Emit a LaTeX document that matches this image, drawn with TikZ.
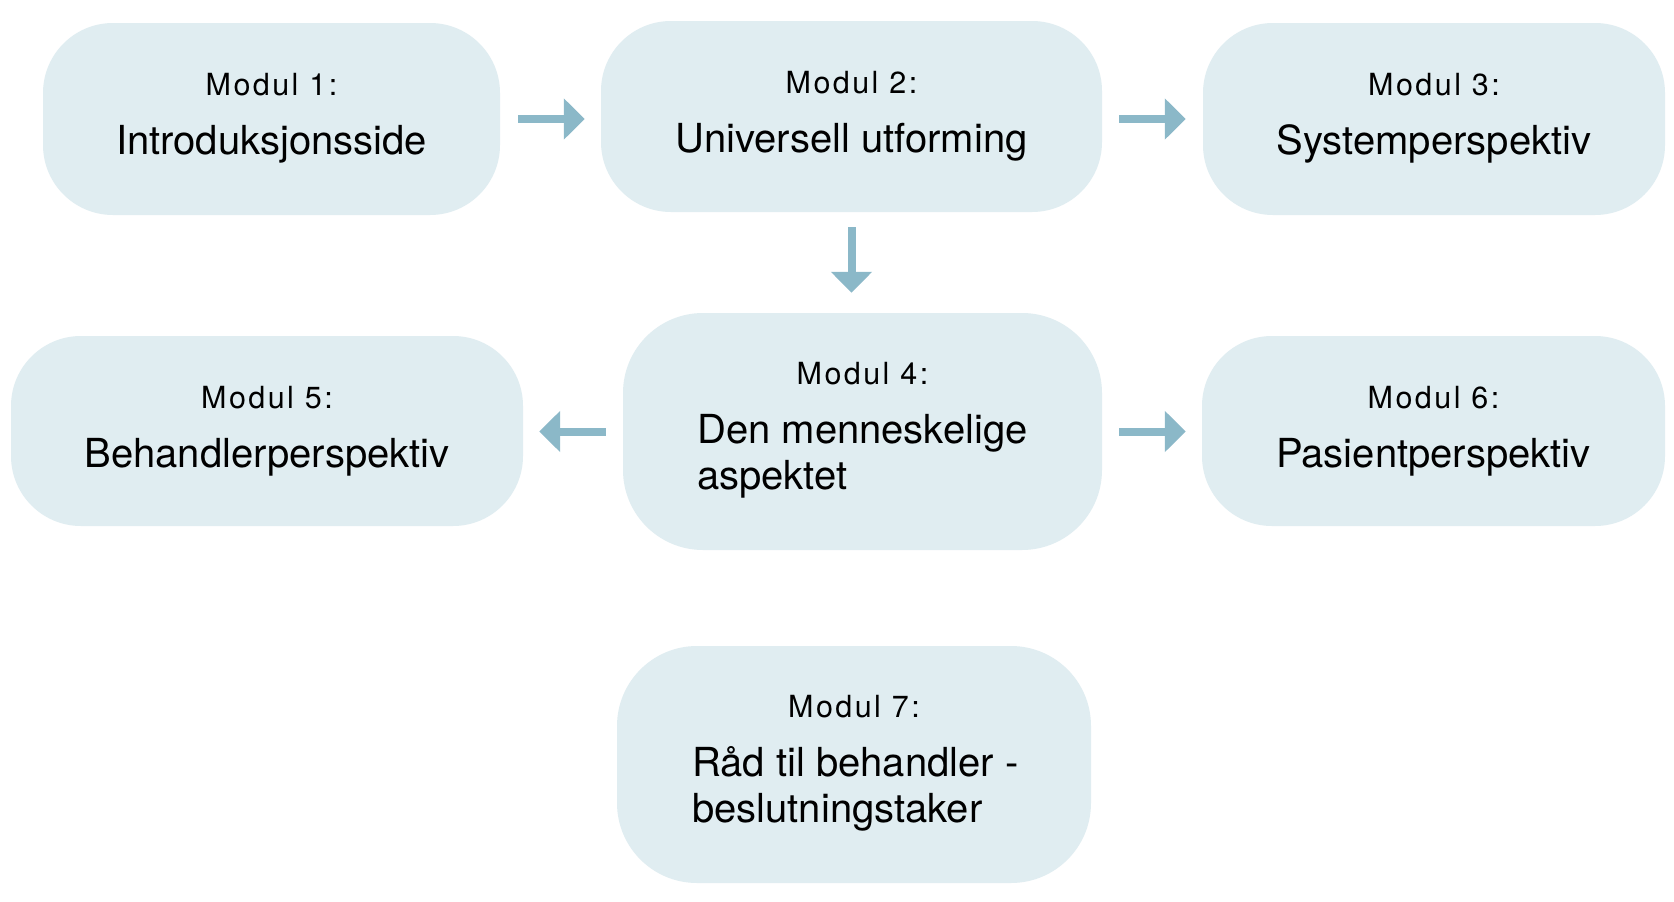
\documentclass[tikz,border=0pt]{standalone}
\usepackage{fontspec}
\setmainfont{TeX Gyre Heros}
\newfontfamily\modfont[LetterSpace=8]{TeX Gyre Heros}
\usetikzlibrary{arrows.meta,calc}
\definecolor{boxfill}{HTML}{E0EDF1}
\definecolor{arrowc}{HTML}{8BB8C8}
\tikzset{
  box/.style={fill=boxfill, draw=none, inner sep=0pt, rounded corners=70pt},
  tallbox/.style={box, rounded corners=80pt},
  modlabel/.style={inner sep=0pt, anchor=base, font=\modfont\fontsize{30.5}{36}\selectfont},
  maintext/.style={inner sep=0pt, anchor=base, font=\fontsize{40}{46}\selectfont},
  mainleft/.style={maintext, anchor=base west},
  arr/.style={line width=8pt, color=arrowc, line cap=butt, -{Triangle[width=40pt,length=21pt]}}
}
\begin{document}
\begin{tikzpicture}[x=1pt,y=-1pt]
\path[use as bounding box, fill=white] (0,0) rectangle (1674,902);
% boxes
\node[box, minimum width=457pt, minimum height=192pt] (b1) at (271.5,119) {};
\node[box, minimum width=501pt, minimum height=191pt] (b2) at (851.5,116.5) {};
\node[box, minimum width=462pt, minimum height=192pt] (b3) at (1434,119) {};
\node[tallbox, minimum width=479pt, minimum height=237pt] (b4) at (862.5,431.5) {};
\node[box, minimum width=512pt, minimum height=190pt] (b5) at (267,431) {};
\node[box, minimum width=463pt, minimum height=190pt] (b6) at (1433.5,431) {};
\node[tallbox, minimum width=474pt, minimum height=237pt] (b7) at (854,764.5) {};
% texts
\node[modlabel] (m1) at (271.5,95) {Modul 1:};
\node[maintext] (t1) at (271.5,154) {Introduksjonsside};
\node[modlabel] (m2) at (851.5,93) {Modul 2:};
\node[maintext] (t2) at (851.5,152) {Universell utforming};
\node[modlabel] (m3) at (1434,95) {Modul 3:};
\node[maintext] (t3) at (1434,154) {Systemperspektiv};
\node[modlabel] (m4) at (862.5,384.5) {Modul 4:};
\node[mainleft] (t4a) at (697,443) {Den menneskelige};
\node[mainleft] (t4b) at (697,489) {aspektet};
\node[modlabel] (m5) at (267,408) {Modul 5:};
\node[maintext] (t5) at (267,467) {Behandlerperspektiv};
\node[modlabel] (m6) at (1433.5,408) {Modul 6:};
\node[maintext] (t6) at (1433.5,467) {Pasientperspektiv};
\node[modlabel] (m7) at (854,717.5) {Modul 7:};
\node[mainleft] (t7a) at (692,776) {Råd til behandler -};
\node[mainleft] (t7b) at (692,822) {beslutningstaker};
% arrows
\draw[arr] ($(b1.east)+(18,0)$) -- ($(b1.east -| b2.west)+(-16,0)$);
\draw[arr] ($(b3.west -| b2.east)+(17,0)$) -- ($(b3.west)+(-17,0)$);
\draw[arr] ($(b2.south)+(0,15)$) -- ($(b4.north -| b2.south)+(0,-20)$);
\draw[arr] ($(b4.west)+(-17,0)$) -- ($(b4.west -| b5.east)+(16,0)$);
\draw[arr] ($(b4.east)+(17,0)$) -- ($(b4.east -| b6.west)+(-16,0)$);
\end{tikzpicture}
\end{document}
